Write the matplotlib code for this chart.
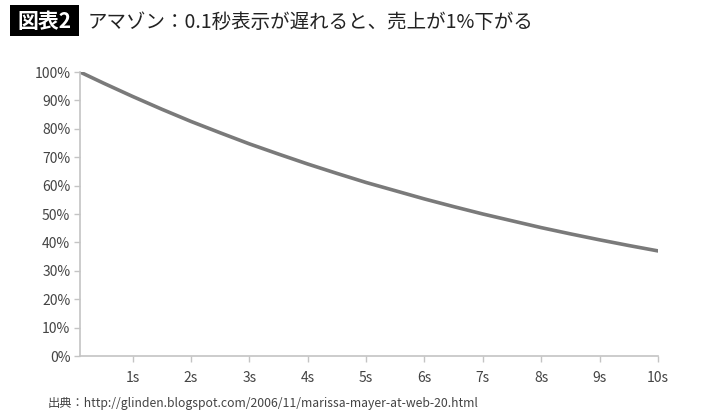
import matplotlib.pyplot as plt
from matplotlib.patches import Rectangle
from matplotlib.ticker import FuncFormatter

plt.rcParams['font.family'] = ['Noto Sans CJK JP', 'DejaVu Sans']

# seconds of delay vs remaining sales
seconds = [0.1, 0.5, 1, 1.5, 2, 2.5, 3, 3.5, 4, 4.5, 5, 5.5, 6, 6.5, 7, 7.5, 8, 8.5, 9, 9.5, 10]
sales = [100, 96.1, 91.4, 86.9, 82.6, 78.6, 74.7, 71.1, 67.6, 64.3, 61.1, 58.2, 55.3,
         52.6, 50.0, 47.6, 45.2, 43.0, 40.9, 38.9, 37.0]
x_ticks = [1, 2, 3, 4, 5, 6, 7, 8, 9, 10]
y_ticks = [0, 10, 20, 30, 40, 50, 60, 70, 80, 90, 100]

title_tag = "図表2"
title = "アマゾン：0.1秒表示が遅れると、売上が1%下がる"
source = "出典：http://glinden.blogspot.com/2006/11/marissa-mayer-at-web-20.html"

W, H = 710, 413
fig = plt.figure(figsize=(W / 100, H / 100), dpi=100)
ax = fig.add_axes([80 / W, 1 - 356 / H, 578 / W, 284 / H])

ax.plot(seconds, sales, color='#7a7a7a', linewidth=2.6, solid_capstyle='round')

ax.set_xlim(0.1, 10)
ax.set_ylim(0, 100)
ax.set_xticks(x_ticks)
ax.set_xticklabels([f"{t}s" for t in x_ticks])
ax.set_yticks(y_ticks)
ax.yaxis.set_major_formatter(FuncFormatter(lambda v, p: f"{int(v)}%"))

for s in ['top', 'right']:
    ax.spines[s].set_visible(False)
for s in ['left', 'bottom']:
    ax.spines[s].set_color('#c4c4c4')
    ax.spines[s].set_linewidth(1.2)
ax.tick_params(axis='both', colors='#c4c4c4', labelcolor='#444444', labelsize=10,
               length=4, width=1)
ax.tick_params(axis='x', pad=7)
ax.tick_params(axis='y', pad=3)

# title tag box
fig.patches.append(Rectangle((10 / W, 1 - 36 / H), 69 / W, 31 / H, transform=fig.transFigure,
                             facecolor='black', edgecolor='none'))
fig.text(44.5 / W, 1 - 21 / H, title_tag, color='white', fontsize=15, fontweight='bold',
         va='center', ha='center')
fig.text(88 / W, 1 - 22 / H, title, color='#222222', fontsize=14, va='center', ha='left')

fig.text(48 / W, 1 - 404 / H, source, color='#444444', fontsize=8.8, va='center', ha='left')

fig.savefig('out.png', dpi=100)
